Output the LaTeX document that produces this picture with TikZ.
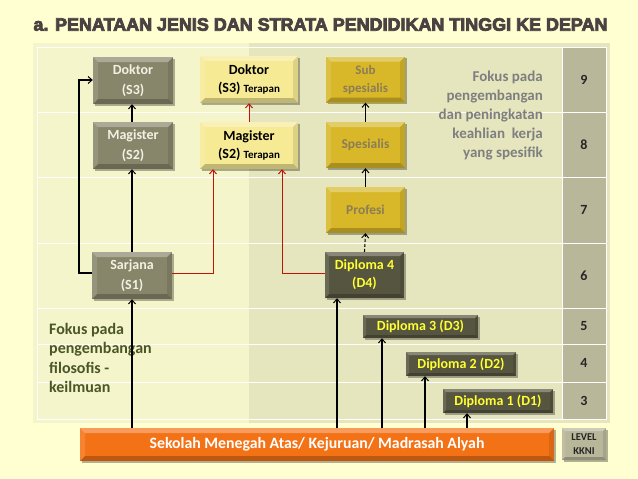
\documentclass[tikz,border=0pt]{standalone}
\usepackage{fontspec}
\setmainfont{Carlito}
\newfontfamily\titlefont{Liberation Sans}
\usetikzlibrary{arrows.meta,shadows,calc}
\definecolor{pagebg}{HTML}{FFFFD2}
\definecolor{panelL}{HTML}{F5F5CB}
\definecolor{panelR}{HTML}{E5E6BE}
\definecolor{levelc}{HTML}{B8B79A}
\definecolor{sbox}{HTML}{87866A}
\definecolor{stext}{HTML}{F2F2E4}
\definecolor{tbox}{HTML}{F6EA94}
\definecolor{gbox}{HTML}{D8B828}
\definecolor{gtext}{HTML}{8B7D55}
\definecolor{dbox}{HTML}{56553F}
\definecolor{dtext}{HTML}{FFFF33}
\definecolor{obox}{HTML}{F47216}
\definecolor{redarr}{HTML}{C0140A}
\definecolor{lfokus}{HTML}{4B5526}
\definecolor{rfokus}{HTML}{7F7F7F}
\definecolor{titlec}{HTML}{4A4242}
\newcommand{\mytitletext}{a. PENATAAN JENIS DAN STRATA PENDIDIKAN TINGGI KE DEPAN}
\tikzset{
  bevel/.style={path picture={
    \def\bv{#1}
    \coordinate (pnw) at (path picture bounding box.north west);
    \coordinate (pne) at (path picture bounding box.north east);
    \coordinate (psw) at (path picture bounding box.south west);
    \coordinate (pse) at (path picture bounding box.south east);
    \fill[white,opacity=.30] (pnw) -- (pne) -- ([shift={(-\bv,-\bv)}]pne) -- ([shift={(\bv,-\bv)}]pnw) -- cycle;
    \fill[white,opacity=.12] (pnw) -- ([shift={(\bv,-\bv)}]pnw) -- ([shift={(\bv,\bv)}]psw) -- (psw) -- cycle;
    \fill[black,opacity=.22] (psw) -- ([shift={(\bv,\bv)}]psw) -- ([shift={(-\bv,\bv)}]pse) -- (pse) -- cycle;
    \fill[black,opacity=.10] (pse) -- ([shift={(-\bv,\bv)}]pse) -- ([shift={(-\bv,-\bv)}]pne) -- (pne) -- cycle;
  }},
  box/.style={draw=none, inner sep=1pt, align=center,
    font=\bfseries\fontsize{14}{20}\selectfont,
    drop shadow={shadow xshift=1.5pt,shadow yshift=-1.5pt,opacity=.3,fill=black}},
  sdeg/.style={box, fill=sbox, text=stext, bevel=5pt, minimum width=80pt, minimum height=47pt},
  tdeg/.style={box, fill=tbox, text=black, bevel=5pt, minimum width=98pt, minimum height=47pt},
  gdeg/.style={box, fill=gbox, text=gtext, bevel=5pt, minimum width=79pt, minimum height=46pt, font=\bfseries\fontsize{13.5}{18}\selectfont},
  ddeg/.style={box, fill=dbox, text=dtext, bevel=4pt, font=\bfseries\fontsize{14}{18}\selectfont},
  dsmall/.style={ddeg, bevel=3pt, minimum height=24pt},
  arr/.style={draw=black, line width=1.1pt, -{Straight Barb[length=4pt,width=7pt,line width=1pt]}},
  rarr/.style={draw=redarr, line width=1pt, -{Straight Barb[length=4pt,width=7pt,line width=1pt]}},
  lvl/.style={font=\bfseries\fontsize{14}{15}\selectfont, text=black!85},
  grid/.style={draw=white, line width=1pt},
  ttl/.style={font=\titlefont\bfseries, inner sep=0pt}
}
\begin{document}
\begin{tikzpicture}[x=1pt,y=-1pt]
\useasboundingbox (0,0) rectangle (638,479);
\fill[pagebg] (0,0) rectangle (638,479);
% title (stroked text for extra weight)
\node[ttl, text=titlec] (title) at (320.5,24.5) {\resizebox{574pt}{!}{\special{pdf:literal direct 2 Tr 0.45 w}\mytitletext\special{pdf:literal direct 0 Tr}}};
% panel
\fill[panelL] (33,43) rectangle (249,423);
\fill[panelR] (249,43) rectangle (610,423);
\fill[levelc] (562,47) rectangle (606,419);
\foreach \yy in {112,177,243,308,344,382} \draw[grid] (37,\yy) -- (606,\yy);
\draw[grid] (562,47) -- (562,419);
\draw[grid] (37,47) rectangle (606,419);
% level numbers
\node[lvl] (l9) at (584,79.5) {9};
\node[lvl] (l8) at (584,144.5) {8};
\node[lvl] (l7) at (584,210) {7};
\node[lvl] (l6) at (584,275.5) {6};
\node[lvl] (l5) at (584,326) {5};
\node[lvl] (l4) at (584,363) {4};
\node[lvl] (l3) at (584,400.5) {3};
% focus texts
\node (fl)[anchor=north west, align=left, text=lfokus, font=\bfseries\fontsize{16}{19.3}\selectfont, inner sep=0pt] at (49,323) {Fokus pada\\pengembangan\\filosofis -\\keilmuan};
\node (fr)[anchor=north east, align=right, text=rfokus, font=\bfseries\fontsize{15}{19}\selectfont, inner sep=0pt] at (543,71) {Fokus pada\\pengembangan\\dan peningkatan\\keahlian\ \ kerja\\yang spesifik};
% boxes
\node[sdeg] (dok) at (133,80.5) {Doktor\\(S3)};
\node[sdeg] (mag) at (133,145.5) {Magister\\(S2)};
\node[sdeg] (sar) at (132,275.5) {Sarjana\\(S1)};
\node[tdeg, font=\bfseries\fontsize{14}{18}\selectfont] (dokt) at (249,79.5) {Doktor\\(S3) {\fontsize{11}{18}\selectfont Terapan}};
\node[tdeg, font=\bfseries\fontsize{14}{18}\selectfont] (magt) at (249,145.5) {Magister\\(S2) {\fontsize{11}{18}\selectfont Terapan}};
\node[gdeg, font=\bfseries\fontsize{13}{18}\selectfont] (sub) at (365.5,79.5) {Sub\\spesialis};
\node[gdeg] (spe) at (365.5,145) {Spesialis};
\node[gdeg] (pro) at (365.5,210) {Profesi};
\node[ddeg, minimum width=79pt, minimum height=46pt] (d4) at (364.5,275) {Diploma 4\\(D4)};
\node[dsmall, minimum width=115pt, minimum height=23pt] (d3) at (420.5,326.5) {Diploma 3 (D3)};
\node[dsmall, minimum width=110pt] (d2) at (461,364) {Diploma 2 (D2)};
\node[dsmall, minimum width=110pt] (d1) at (498,401) {Diploma 1 (D1)};
\node[box, fill=obox, text=white, bevel=5pt, minimum width=474pt, minimum height=33pt, font=\bfseries\fontsize{15.8}{17}\selectfont] (sma) at (317,444.5) {Sekolah Menegah Atas/ Kejuruan/ Madrasah Alyah};
\node[box, fill=levelc, text=black!85, bevel=3pt, minimum width=44pt, minimum height=32pt, font=\bfseries\fontsize{10.5}{14}\selectfont] (lv) at (584,444) {LEVEL\\KKNI};
% helper coordinates
\coordinate (xs1) at (132,0);
\coordinate (xd4) at (337,0);
\coordinate (xd3) at (382,0);
\coordinate (xd2) at (425,0);
\coordinate (xd1) at (467,0);
\coordinate (loopA) at (79,273);
\coordinate (loopB) at (79,80);
\coordinate (redA) at (213,273);
\coordinate (redB) at (282,273);
\coordinate (xrA) at (213,0);
\coordinate (xrB) at (282,0);
% arrows
\draw[arr] (sma.north -| xs1) -- (sar.south -| xs1);
\draw[arr] (sar.north -| xs1) -- (mag.south -| xs1);
\draw[arr] (mag.north -| xs1) -- (dok.south -| xs1);
\draw[arr] (sar.west |- loopA) -- (loopA) -- (loopB) -- (dok.west |- loopB);
\draw[rarr] (sar.east |- redA) -- (redA) -- (magt.south -| xrA);
\draw[rarr] (d4.west |- redB) -- (redB) -- (magt.south -| xrB);
\draw[rarr] (magt.north) -- (dokt.south);
\draw[arr] (sma.north -| xd4) -- (d4.south -| xd4);
\draw[arr] (sma.north -| xd3) -- (d3.south -| xd3);
\draw[arr] (sma.north -| xd2) -- (d2.south -| xd2);
\draw[arr] (sma.north -| xd1) -- (d1.south -| xd1);
\draw[arr, dashed, dash pattern=on 3pt off 2pt] (d4.north) -- (pro.south);
\draw[arr] (pro.north) -- (spe.south);
\draw[arr] (spe.north) -- (sub.south);
\end{tikzpicture}
\end{document}
